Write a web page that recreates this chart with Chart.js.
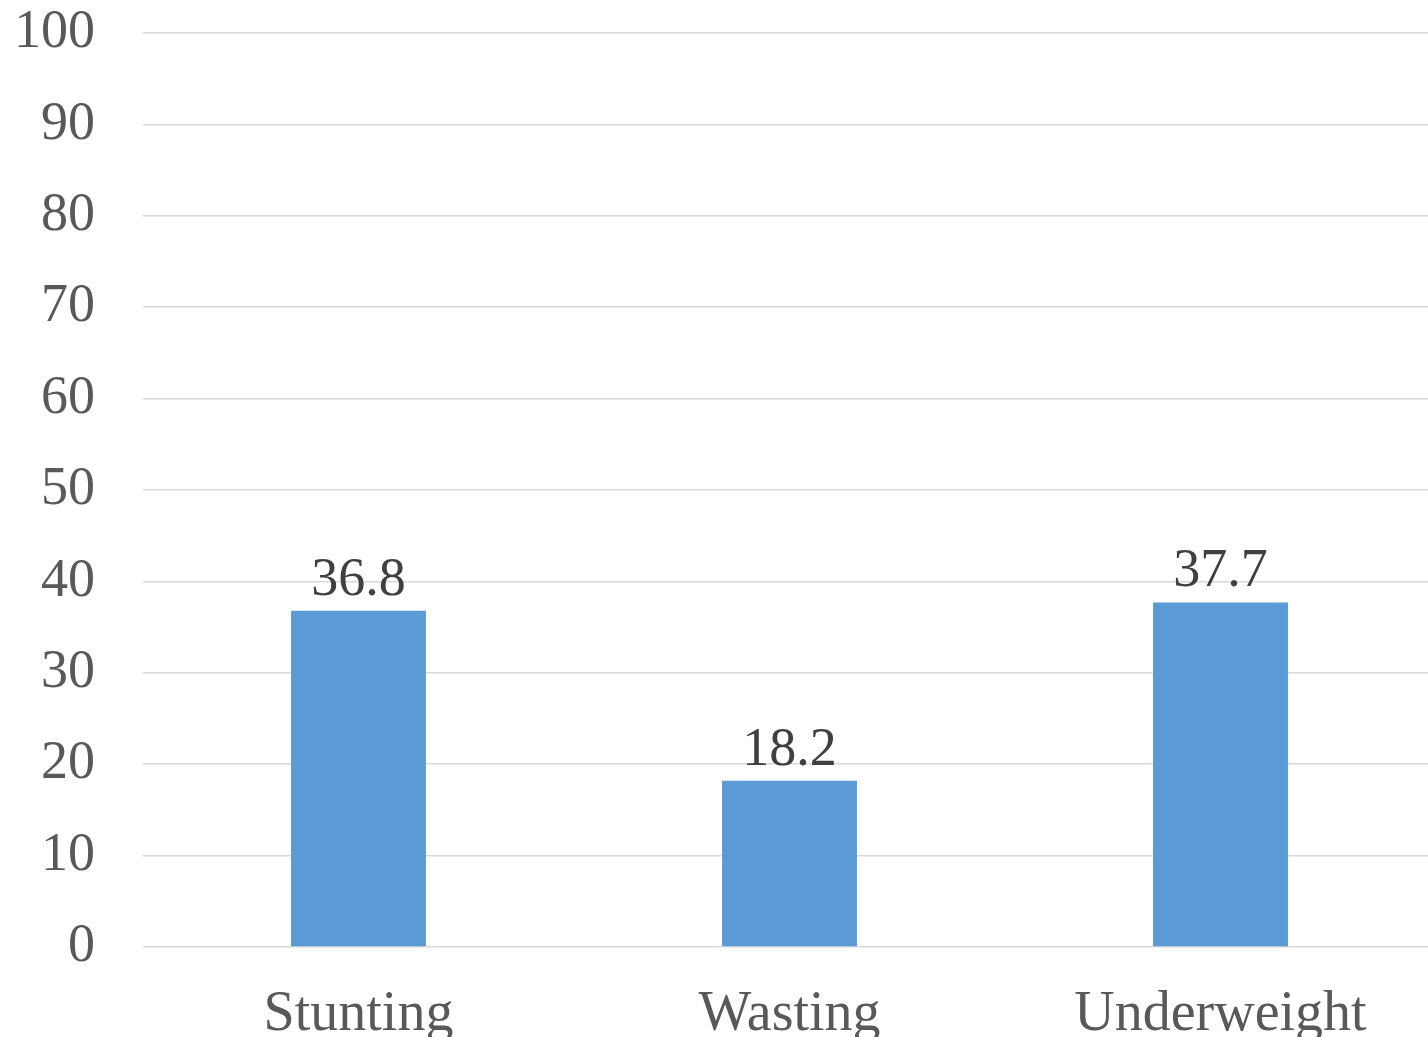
<!DOCTYPE html>
<html>
<head>
<meta charset="utf-8">
<script src="https://cdn.jsdelivr.net/npm/chart.js@4"></script>
<style>
  html, body { margin:0; padding:0; background:#fff; overflow:hidden; }
  .wrap { width:1428px; height:1037px; overflow:hidden; }
</style>
</head>
<body>
<div class="wrap"><canvas class="chart-1" width="1436" height="1037"></canvas></div>
<script>
const labels = ['Stunting', 'Wasting', 'Underweight'];
const values = [36.8, 18.2, 37.7];
const yTicks = [0, 10, 20, 30, 40, 50, 60, 70, 80, 90, 100];

const fontFam = '"Liberation Serif", "DejaVu Serif", serif';

// draws the numbers above each bar
const barLabels = {
    id: 'barLabels',
    afterDatasetsDraw(chart) {
        const c = chart.ctx;
        const meta = chart.getDatasetMeta(0);
        c.save();
        c.font = '54px ' + fontFam;
        c.fillStyle = '#404040';
        c.textAlign = 'center';
        c.textBaseline = 'alphabetic';
        meta.data.forEach(function(bar, i){
            c.fillText(values[i].toFixed(1), bar.x, bar.y - 16);
        });
        c.restore();
    }
};

const ctx = document.querySelector('.chart-1').getContext('2d');
let myChart = new Chart(ctx, {
type: 'bar',
data: {
    labels: labels,
    datasets: [{
        data: values,
        backgroundColor: '#5b9bd5',
        borderWidth: 0,
        categoryPercentage: 1,
        barPercentage: 0.313
    }]
},
options: {
    responsive: false,
    animation: false,
    layout: { padding: { top: 33, right: 0, left: 0, bottom: 0 } },
    plugins: {
        legend: { display: false },
        tooltip: { enabled: false }
    },
    scales: {
        x: {
            grid: { display: false, drawTicks: false },
            border: { display: false },
            ticks: {
                color: '#595959',
                font: { family: fontFam, size: 56 },
                padding: 35,
                maxRotation: 0
            },
            afterFit(scale) {
                scale.height = 90;
                scale.paddingLeft = 0;
                scale.paddingRight = 0;
            }
        },
        y: {
            min: 0,
            max: 100,
            afterBuildTicks(scale) {
                scale.ticks = yTicks.map(function(v){ return { value: v }; });
            },
            grid: { color: '#d9d9d9', lineWidth: 1.5, drawTicks: false },
            border: { display: false },
            ticks: {
                color: '#595959',
                font: { family: fontFam, size: 54 },
                padding: 48
            },
            afterFit(scale) {
                scale.width = 143;
                scale.paddingTop = 0;
                scale.paddingBottom = 0;
            }
        }
    }
},
plugins: [barLabels]
});
</script>
</body>
</html>
